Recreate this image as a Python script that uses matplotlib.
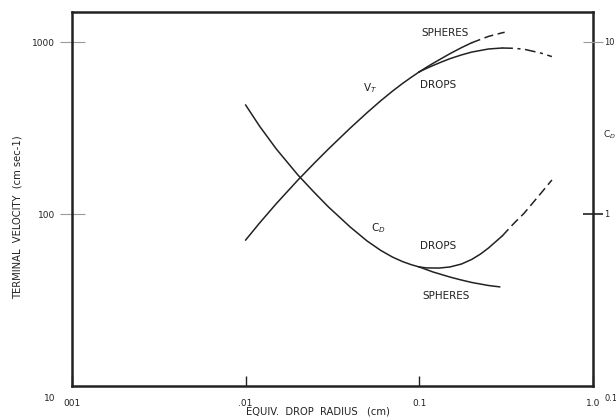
import matplotlib.pyplot as plt
from matplotlib.ticker import NullLocator
from matplotlib.transforms import ScaledTranslation

# equivalent radius (cm) over which drops and spheres share one curve
radius = [0.01, 0.012, 0.015, 0.02, 0.025, 0.03, 0.04, 0.05, 0.06, 0.07,
          0.08, 0.09, 0.1]
vt = [70.6, 88.4, 114.8, 157.6, 198.8, 239.0, 315.8, 388.2, 455.8, 517.6,
      573.8, 624.2, 671]
cd = [4.30, 3.25, 2.39, 1.685, 1.325, 1.098, 0.840, 0.697, 0.614, 0.562,
      0.529, 0.507, 0.492]

# past 1 mm the rigid spheres and the deformed drops part ways
r_vt_sph = [0.1, 0.11, 0.12, 0.135, 0.15, 0.175, 0.2, 0.25, 0.3, 0.31]
vt_sph = [671, 712.9, 751.9, 804.9, 855.1, 927.8, 989.3, 1078, 1131, 1139]
r_vt_drop = [0.1, 0.11, 0.12, 0.135, 0.15, 0.175, 0.2, 0.25, 0.3, 0.35,
             0.4, 0.5, 0.58]
vt_drop = [671, 702.4, 730.2, 767.3, 799.8, 841.4, 873.6, 910.6, 922.8,
           919.2, 908.1, 863.0, 822.5]

r_cd_sph = [0.1, 0.12, 0.15, 0.175, 0.2, 0.25, 0.29]
cd_sph = [0.492, 0.460, 0.430, 0.413, 0.400, 0.384, 0.377]
r_cd_drop = [0.1, 0.11, 0.13, 0.15, 0.175, 0.2, 0.225, 0.25, 0.3, 0.35,
             0.4, 0.5, 0.58]
cd_drop = [0.492, 0.486, 0.485, 0.492, 0.512, 0.544, 0.585, 0.634, 0.745,
           0.881, 1.007, 1.316, 1.577]

x_ticks = [0.001, 0.01, 0.1, 1.0]
x_labels = ['001', '.01', '0.1', '1.0']
vt_ticks = [10, 100, 1000]
cd_ticks = [0.1, 1, 10]

INK = '#222222'
GREY = '#9a9a9a'
DASH = (0, (6, 3))

fig = plt.figure(figsize=(6.16, 4.2), dpi=100)
ax = fig.add_axes([72 / 616, 34 / 420, 521 / 616, 374 / 420])
ax.set_xscale('log')
ax.set_yscale('log')
ax.set_xlim(0.001, 1.0)
ax.set_ylim(10, 10 ** (1 + 374 / 172))

ax2 = ax.twinx()
ax2.set_yscale('log')
ax2.set_ylim(0.1, 10 ** (374 / 172 - 1))

# terminal velocity
ax.plot(radius, vt, color=INK, lw=1.1)
ax.plot(r_vt_sph[:7], vt_sph[:7], color=INK, lw=1.1)
ax.plot(r_vt_sph[6:], vt_sph[6:], color=INK, lw=1.1, ls=DASH)
ax.plot(r_vt_drop[:9], vt_drop[:9], color=INK, lw=1.1)
ax.plot(r_vt_drop[8:], vt_drop[8:], color=INK, lw=1.1, ls=(0, (7, 3, 2, 3)))

# drag coefficient
ax2.plot(radius, cd, color=INK, lw=1.1)
ax2.plot(r_cd_sph, cd_sph, color=INK, lw=1.1)
ax2.plot(r_cd_drop[:9], cd_drop[:9], color=INK, lw=1.1)
ax2.plot(r_cd_drop[8:], cd_drop[8:], color=INK, lw=1.1, ls=DASH)

txt = dict(fontsize=7.5, color=INK, ha='center', va='center')
ax.text(0.140, 1128, 'SPHERES', **txt)
ax.text(0.128, 562, 'DROPS', **txt)
ax.text(0.052, 541, 'V$_T$', **txt)
ax2.text(0.058, 0.83, 'C$_D$', **txt)
ax2.text(0.128, 0.652, 'DROPS', **txt)
ax2.text(0.142, 0.334, 'SPHERES', **txt)

for a in (ax, ax2):
    a.xaxis.set_minor_locator(NullLocator())
    a.yaxis.set_minor_locator(NullLocator())

ax.set_xticks(x_ticks, x_labels)
ax.set_yticks(vt_ticks, [str(v) for v in vt_ticks])
ax2.set_yticks(cd_ticks, ['0.1', '1', '10'])

ax.tick_params(axis='x', direction='in', length=7, width=1, color=INK,
               labelsize=6.5, labelcolor=INK, pad=9)
ax.tick_params(axis='y', direction='inout', length=18, width=0.8, color=GREY,
               labelsize=6.5, labelcolor=INK, pad=3)
ax2.tick_params(axis='y', direction='inout', length=15, width=0.8, color=GREY,
                labelsize=6, labelcolor=INK, pad=0.5)

# no tick marks in the corners, the C_D tick at 1 is drawn dark,
# and the corner labels sit below the bottom spine
ax.yaxis.get_major_ticks()[0].tick1line.set_visible(False)
ax2.yaxis.get_major_ticks()[0].tick2line.set_visible(False)
ax2.yaxis.get_major_ticks()[1].tick2line.set_markeredgecolor(INK)
ax2.yaxis.get_major_ticks()[1].tick2line.set_markeredgewidth(1.2)
drop = ScaledTranslation(0, -6 / 72, fig.dpi_scale_trans)
for lab in (ax.get_yticklabels()[0], ax2.get_yticklabels()[0]):
    lab.set_va('top')
    lab.set_transform(lab.get_transform() + drop)

for s in ax.spines.values():
    s.set_linewidth(1.8)
    s.set_color(INK)
for s in ax2.spines.values():
    s.set_visible(False)

fig.text(18 / 616, 1 - 217 / 420, 'TERMINAL  VELOCITY  (cm sec-1)',
         rotation=90, ha='center', va='center', fontsize=7.2, color=INK)
fig.text(318 / 616, 1 - 412 / 420, 'EQUIV.  DROP  RADIUS   (cm)',
         ha='center', va='center', fontsize=7.2, color=INK)
fig.text(603 / 616, 1 - 135 / 420, 'C$_D$', ha='left', va='center',
         fontsize=6.5, color=INK)

fig.savefig('out.png', dpi=100, facecolor='white')
